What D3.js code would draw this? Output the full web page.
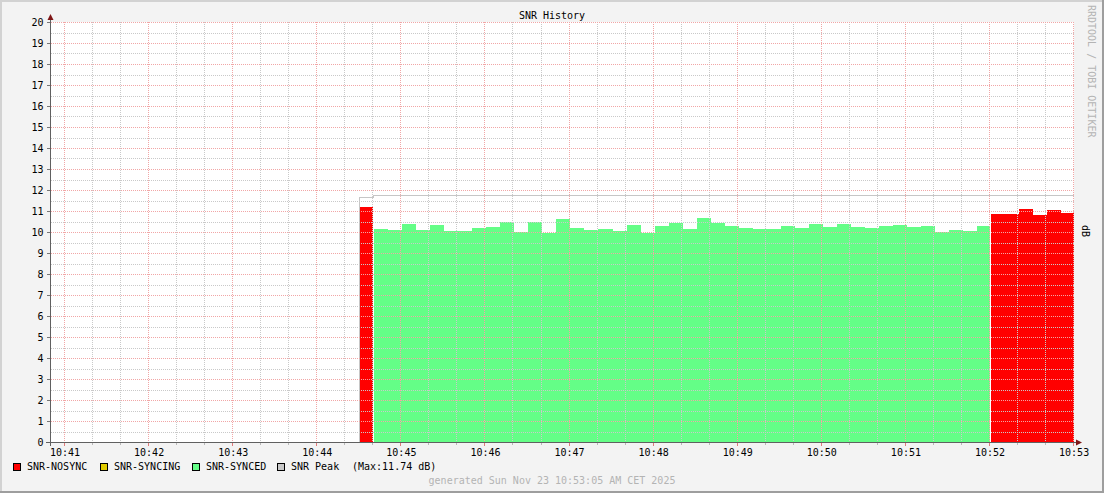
<!DOCTYPE html>
<html>
<head>
<meta charset="utf-8">
<script src="https://cdn.jsdelivr.net/npm/d3@7"></script>
<style>
  body { margin: 0; background: #f3f3f3; }
  svg { display: block; font-family: "DejaVu Sans Mono", monospace; font-size: 10px; }
</style>
</head>
<body>
<div id="chart"></div>
<script>
const day = '2025-11-23T';

// one sample every 10 s (rrd steps land on :x1)
const sampleTimes = [
  '10:44:31', '10:44:41', '10:44:51',
  '10:45:01', '10:45:11', '10:45:21', '10:45:31', '10:45:41', '10:45:51',
  '10:46:01', '10:46:11', '10:46:21', '10:46:31', '10:46:41', '10:46:51',
  '10:47:01', '10:47:11', '10:47:21', '10:47:31', '10:47:41', '10:47:51',
  '10:48:01', '10:48:11', '10:48:21', '10:48:31', '10:48:41', '10:48:51',
  '10:49:01', '10:49:11', '10:49:21', '10:49:31', '10:49:41', '10:49:51',
  '10:50:01', '10:50:11', '10:50:21', '10:50:31', '10:50:41', '10:50:51',
  '10:51:01', '10:51:11', '10:51:21', '10:51:31', '10:51:41', '10:51:51',
  '10:52:01', '10:52:11', '10:52:21', '10:52:31', '10:52:41', '10:52:51',
];
const snrValues = [
  11.2, 10.14, 10.10,
  10.40, 10.10, 10.35, 10.05, 10.05, 10.19,
  10.24, 10.49, 10.01, 10.49, 9.97, 10.62,
  10.19, 10.11, 10.14, 10.06, 10.33, 9.97,
  10.29, 10.43, 10.16, 10.67, 10.44, 10.29,
  10.19, 10.14, 10.14, 10.29, 10.19, 10.38,
  10.24, 10.38, 10.24, 10.19, 10.29, 10.33,
  10.24, 10.29, 10.02, 10.10, 10.05, 10.29,
  10.86, 10.86, 11.08, 10.81, 11.03, 10.90,
];
// N = nosync, Y = syncing, S = synced
const syncState = [
  'N', 'S', 'S',
  'S', 'S', 'S', 'S', 'S', 'S',
  'S', 'S', 'S', 'S', 'S', 'S',
  'S', 'S', 'S', 'S', 'S', 'S',
  'S', 'S', 'S', 'S', 'S', 'S',
  'S', 'S', 'S', 'S', 'S', 'S',
  'S', 'S', 'S', 'S', 'S', 'S',
  'S', 'S', 'S', 'S', 'S', 'S',
  'N', 'N', 'N', 'N', 'N', 'N',
];
const lastSampleEnd = '10:53:01';
const startTime = '10:40:50';
const endTime = '10:53:00';

const peakTimes = ['10:44:31', '10:44:31', '10:44:41', '10:53:01'];
const peakValues = [0, 11.65, 11.74, 11.74];

const legendLabels = ['SNR-NOSYNC', 'SNR-SYNCING', 'SNR-SYNCED', 'SNR Peak'];
const legendStates = ['N', 'Y', 'S', 'P'];
const peakNote = '(Max:11.74 dB)';

const stateColor = { N: '#ff0000', Y: '#e0cc00', S: '#64fe87', P: '#c8c8c8' };

const toDate = (s) => new Date(day + s);

function render() {
  const width = 1104;
  const height = 493;
  const plot = { left: 50.5, right: 1073.6, top: 22, bottom: 442 };

  const svg = d3
    .select('#chart')
    .append('svg')
    .attr('width', width)
    .attr('height', height);

  // frame
  svg.append('rect').attr('width', width).attr('height', height).attr('fill', '#9e9e9e');
  svg.append('rect').attr('width', width - 2).attr('height', height - 2).attr('fill', '#d2d2d2');
  svg.append('rect').attr('x', 2).attr('y', 2)
    .attr('width', width - 4).attr('height', height - 4).attr('fill', '#f3f3f3');

  svg.append('rect')
    .attr('x', 51).attr('y', plot.top)
    .attr('width', 1074 - 51).attr('height', plot.bottom - plot.top)
    .attr('fill', '#ffffff');

  svg.append('defs').append('clipPath').attr('id', 'plot-clip')
    .append('rect')
    .attr('x', 51).attr('y', plot.top)
    .attr('width', 1074 - 51).attr('height', plot.bottom - plot.top);

  const x = d3.scaleTime()
    .domain([toDate(startTime), toDate(endTime)])
    .range([plot.left, plot.right]);
  const y = d3.scaleLinear().domain([0, 20]).range([plot.bottom, plot.top]);

  const data = svg.append('g').attr('clip-path', 'url(#plot-clip)');

  // peak line (drawn under the areas)
  const peak = peakTimes.map((t, i) => ({ t: toDate(t), v: peakValues[i] }));
  data.append('path')
    .datum(peak)
    .attr('fill', 'none')
    .attr('stroke', '#c6c6c6')
    .attr('stroke-width', 1)
    .attr('shape-rendering', 'crispEdges')
    .attr('d', d3.line()
      .x((d) => Math.round(x(d.t)) - 0.5)
      .y((d) => Math.round(y(d.v)) + 0.5)
      .curve(d3.curveStepAfter));

  // split samples into runs of equal state
  const samples = sampleTimes.map((t, i) => ({ t: toDate(t), v: snrValues[i], s: syncState[i] }));
  const runs = [];
  samples.forEach((d, i) => {
    const last = runs[runs.length - 1];
    if (last && last.state === d.s) last.points.push(d);
    else runs.push({ state: d.s, points: [d] });
    const next = samples[i + 1];
    if (!next || next.s !== d.s) {
      runs[runs.length - 1].points.push({ t: next ? next.t : toDate(lastSampleEnd), v: d.v, end: true });
    }
  });

  const area = d3.area()
    .x((d) => (d.end ? x(d.t) - 1 : x(d.t)))
    .y0(y(0))
    .y1((d) => y(d.v))
    .curve(d3.curveStepAfter);

  data.append('g')
    .attr('shape-rendering', 'crispEdges')
    .selectAll('path')
    .data(runs)
    .join('path')
    .attr('fill', (d) => stateColor[d.state])
    .attr('d', (d) => area(d.points));

  // dotted grid on top of data
  const minorY = d3.range(0.5, 20, 1);
  const majorY = d3.range(1, 21, 1);
  const minorX = x.ticks(d3.timeSecond.every(20)).filter((d) => d.getSeconds() !== 0);
  const majorX = x.ticks(d3.timeMinute.every(1));
  const px = (d) => Math.floor(x(d)) + 0.5;
  const gridColor = '#c9c9c9';
  const mgridColor = '#f1a6a6';

  const grid = svg.append('g').attr('shape-rendering', 'crispEdges');
  const hLine = (vals, color) => grid.append('g')
    .selectAll('line').data(vals).join('line')
    .attr('x1', 51).attr('x2', 1074)
    .attr('y1', (d) => Math.round(y(d)) + 0.5).attr('y2', (d) => Math.round(y(d)) + 0.5)
    .attr('stroke', color).attr('stroke-dasharray', '1,1');
  const vLine = (vals, color) => grid.append('g')
    .selectAll('line').data(vals).join('line')
    .attr('y1', plot.top).attr('y2', plot.bottom)
    .attr('x1', px).attr('x2', px)
    .attr('stroke', color).attr('stroke-dasharray', '1,1');
  hLine(minorY, gridColor);
  vLine(minorX, gridColor);
  hLine(majorY, mgridColor);
  vLine(majorX, mgridColor);

  // axes
  const xAxis = svg.append('g')
    .attr('transform', `translate(0, ${plot.bottom + 0.5})`)
    .call(d3.axisBottom(x).tickValues(majorX).tickSize(0).tickPadding(6)
      .tickFormat(d3.timeFormat('%H:%M')));
  xAxis.select('.domain').remove();
  xAxis.selectAll('text').attr('fill', '#000').style('font-size', '10px')
    .style('font-family', '"DejaVu Sans Mono", monospace');

  const ticks = svg.append('g').attr('shape-rendering', 'crispEdges');
  ticks.selectAll('.maj').data(majorX).join('line').attr('class', 'maj')
    .attr('x1', px).attr('x2', px)
    .attr('y1', plot.bottom).attr('y2', plot.bottom + 4)
    .attr('stroke', '#e07a7a');
  ticks.selectAll('.min').data(minorX).join('line').attr('class', 'min')
    .attr('x1', px).attr('x2', px)
    .attr('y1', plot.bottom).attr('y2', plot.bottom + 3)
    .attr('stroke', '#b8b8b8');

  const yAxis = svg.append('g')
    .attr('transform', `translate(${plot.left}, 0)`)
    .call(d3.axisLeft(y).ticks(20).tickSize(4).tickPadding(3).tickFormat(d3.format('d')));
  yAxis.select('.domain').remove();
  yAxis.selectAll('line').attr('stroke', '#777777').attr('shape-rendering', 'crispEdges');
  yAxis.selectAll('text').attr('fill', '#000').style('font-size', '10px')
    .style('font-family', '"DejaVu Sans Mono", monospace');

  svg.append('line')
    .attr('x1', 46).attr('x2', 1077)
    .attr('y1', plot.bottom + 0.5).attr('y2', plot.bottom + 0.5)
    .attr('stroke', '#606060');
  svg.append('line')
    .attr('x1', plot.left).attr('x2', plot.left)
    .attr('y1', plot.bottom + 4).attr('y2', plot.top - 3)
    .attr('stroke', '#606060');
  svg.append('path')
    .attr('d', `M1076,${plot.bottom - 2.5}L1082,${plot.bottom + 0.5}L1076,${plot.bottom + 3.5}Z`)
    .attr('fill', '#7f1616');
  svg.append('path')
    .attr('d', `M${plot.left - 3},${plot.top - 2}L${plot.left},${plot.top - 8}L${plot.left + 3},${plot.top - 2}Z`)
    .attr('fill', '#7f1616');

  // texts
  svg.append('text')
    .attr('x', width / 2).attr('y', 19)
    .attr('text-anchor', 'middle')
    .text('SNR History');

  svg.append('text')
    .attr('transform', `translate(1088, 5) rotate(90)`)
    .attr('fill', '#b4b4b4')
    .text('RRDTOOL / TOBI OETIKER');

  svg.append('text')
    .attr('transform', `translate(1082, 225) rotate(90)`)
    .text('dB');

  // legend
  const legendX = [13, 100, 192, 277];
  const legend = svg.append('g');
  legendLabels.forEach((label, i) => {
    legend.append('rect')
      .attr('x', legendX[i] + 0.5).attr('y', 463.5)
      .attr('width', 7).attr('height', 7)
      .attr('fill', stateColor[legendStates[i]])
      .attr('stroke', '#000');
    legend.append('text')
      .attr('x', legendX[i] + 14).attr('y', 470)
      .text(label);
  });
  legend.append('text').attr('x', 352).attr('y', 470).text(peakNote);

  svg.append('text')
    .attr('x', width / 2).attr('y', 484)
    .attr('text-anchor', 'middle')
    .attr('fill', '#b4b4b4')
    .text('generated Sun Nov 23 10:53:05 AM CET 2025');
}

render();
</script>
</body>
</html>
